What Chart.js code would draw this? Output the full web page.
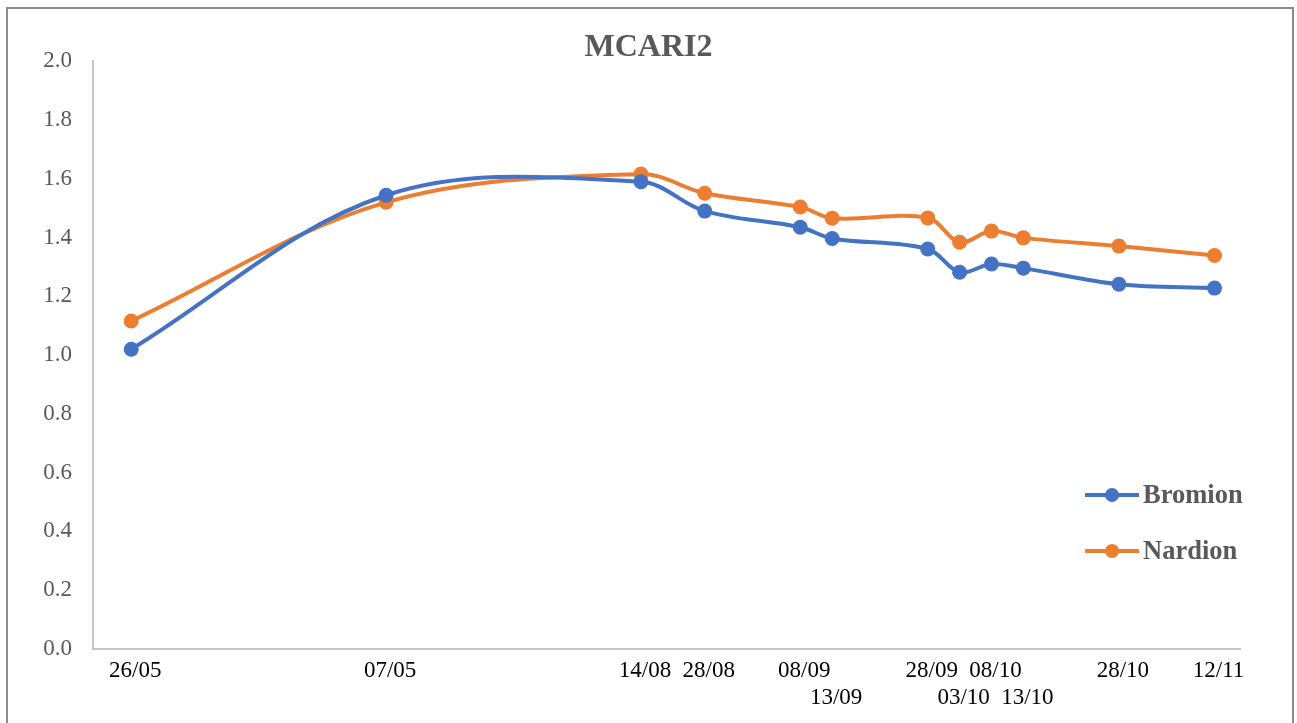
<!DOCTYPE html>
<html>
<head>
<meta charset="utf-8">
<script src="https://cdn.jsdelivr.net/npm/chart.js@4"></script>
<style>
  html, body { margin: 0; padding: 0; background: #fff; }
  #wrap { width: 1297px; height: 723px; }
</style>
</head>
<body>
<div id="wrap"><canvas id="mcari"></canvas></div>
<script>
// day offsets from 26/05
const days = [0, 40, 80, 90, 105, 110, 125, 130, 135, 140, 155, 170];
const dateLabels = ['26/05', '07/05', '14/08', '28/08', '08/09', '13/09', '28/09', '03/10', '08/10', '13/10', '28/10', '12/11'];
// labels that Excel pushed to a second row
const lowerRow = ['13/09', '03/10', '13/10'];

const bromion = [1.020, 1.544, 1.590, 1.490, 1.435, 1.397, 1.361, 1.282, 1.310, 1.296, 1.241, 1.228];
const nardion = [1.116, 1.520, 1.616, 1.551, 1.504, 1.466, 1.467, 1.384, 1.422, 1.399, 1.371, 1.339];

const yTicks = [0, 0.2, 0.4, 0.6, 0.8, 1.0, 1.2, 1.4, 1.6, 1.8, 2.0];

const BLUE = '#4472C4';
const ORANGE = '#ED7D31';
const SERIF = '"Liberation Serif", "Times New Roman", serif';

const toPoints = (vals) => vals.map((v, i) => ({ x: days[i], y: v }));

// frame around the whole chart + legend drawn like Excel's (line with marker)
const excelFrame = {
  id: 'excelFrame',
  beforeDraw(chart) {
    const { ctx } = chart;
    ctx.save();
    ctx.fillStyle = '#fff';
    ctx.fillRect(0, 0, chart.width, chart.height);
    ctx.strokeStyle = '#8c8c8c';
    ctx.lineWidth = 2;
    ctx.strokeRect(7, 8, 1286, 730);
    ctx.restore();
  },
  afterDraw(chart) {
    const { ctx } = chart;
    ctx.save();
    chart.data.datasets.forEach((ds, i) => {
      const y = 495 + i * 56;
      ctx.strokeStyle = ds.borderColor;
      ctx.lineWidth = 4;
      ctx.beginPath();
      ctx.moveTo(1085, y);
      ctx.lineTo(1139, y);
      ctx.stroke();
      ctx.fillStyle = ds.borderColor;
      ctx.beginPath();
      ctx.arc(1112, y, 7, 0, Math.PI * 2);
      ctx.fill();
      ctx.fillStyle = '#595959';
      ctx.font = 'bold 26.5px ' + SERIF;
      ctx.textBaseline = 'middle';
      ctx.textAlign = 'left';
      ctx.fillText(ds.label, 1143, y + 1);
    });
    ctx.restore();
  }
};

const lineStyle = {
  borderWidth: 4,
  pointRadius: 7.5,
  pointHoverRadius: 7.5,
  pointBorderWidth: 0,
  tension: 0.35
};

new Chart(document.getElementById('mcari'), {
  type: 'line',
  data: {
    datasets: [
      Object.assign({ label: 'Bromion', data: toPoints(bromion), borderColor: BLUE, backgroundColor: BLUE }, lineStyle),
      Object.assign({ label: 'Nardion', data: toPoints(nardion), borderColor: ORANGE, backgroundColor: ORANGE }, lineStyle)
    ]
  },
  options: {
    responsive: true,
    maintainAspectRatio: false,
    animation: false,
    layout: { padding: 0 },
    plugins: {
      legend: { display: false },
      tooltip: { enabled: false },
      title: {
        display: true,
        text: 'MCARI2',
        color: '#595959',
        font: { family: SERIF, size: 32, weight: 'bold', lineHeight: 0.82 },
        padding: { top: 35, bottom: 0 }
      }
    },
    scales: {
      x: {
        type: 'linear',
        min: -6,
        max: 174,
        grid: { display: false },
        border: { display: true, color: '#c6c6c6', width: 2 },
        afterFit(scale) { scale.height = 74; },
        afterBuildTicks(scale) {
          scale.ticks = days.map(d => ({ value: d }));
        },
        ticks: {
          autoSkip: false,
          maxRotation: 0,
          padding: 0,
          labelOffset: 4,
          color: '#000',
          font: { family: SERIF, size: 23, lineHeight: 1.2 },
          callback(value, index) {
            const lab = dateLabels[index];
            return lowerRow.includes(lab) ? ['', lab] : lab;
          }
        }
      },
      y: {
        min: 0,
        max: 2,
        grid: { display: false, drawTicks: false },
        border: { display: true, color: '#c6c6c6', width: 2 },
        afterFit(scale) { scale.width = 93; },
        afterBuildTicks(scale) {
          scale.ticks = yTicks.map(v => ({ value: v }));
        },
        ticks: {
          padding: 21,
          color: '#595959',
          font: { family: SERIF, size: 23 },
          callback: (v) => v.toFixed(1)
        }
      },
      // empty right-hand strip so the plot stops where Excel's does
      yRight: {
        position: 'right',
        display: true,
        grid: { display: false, drawTicks: false },
        border: { display: false },
        ticks: { display: false },
        afterFit(scale) { scale.width = 57; }
      }
    }
  },
  plugins: [excelFrame]
});
</script>
</body>
</html>
